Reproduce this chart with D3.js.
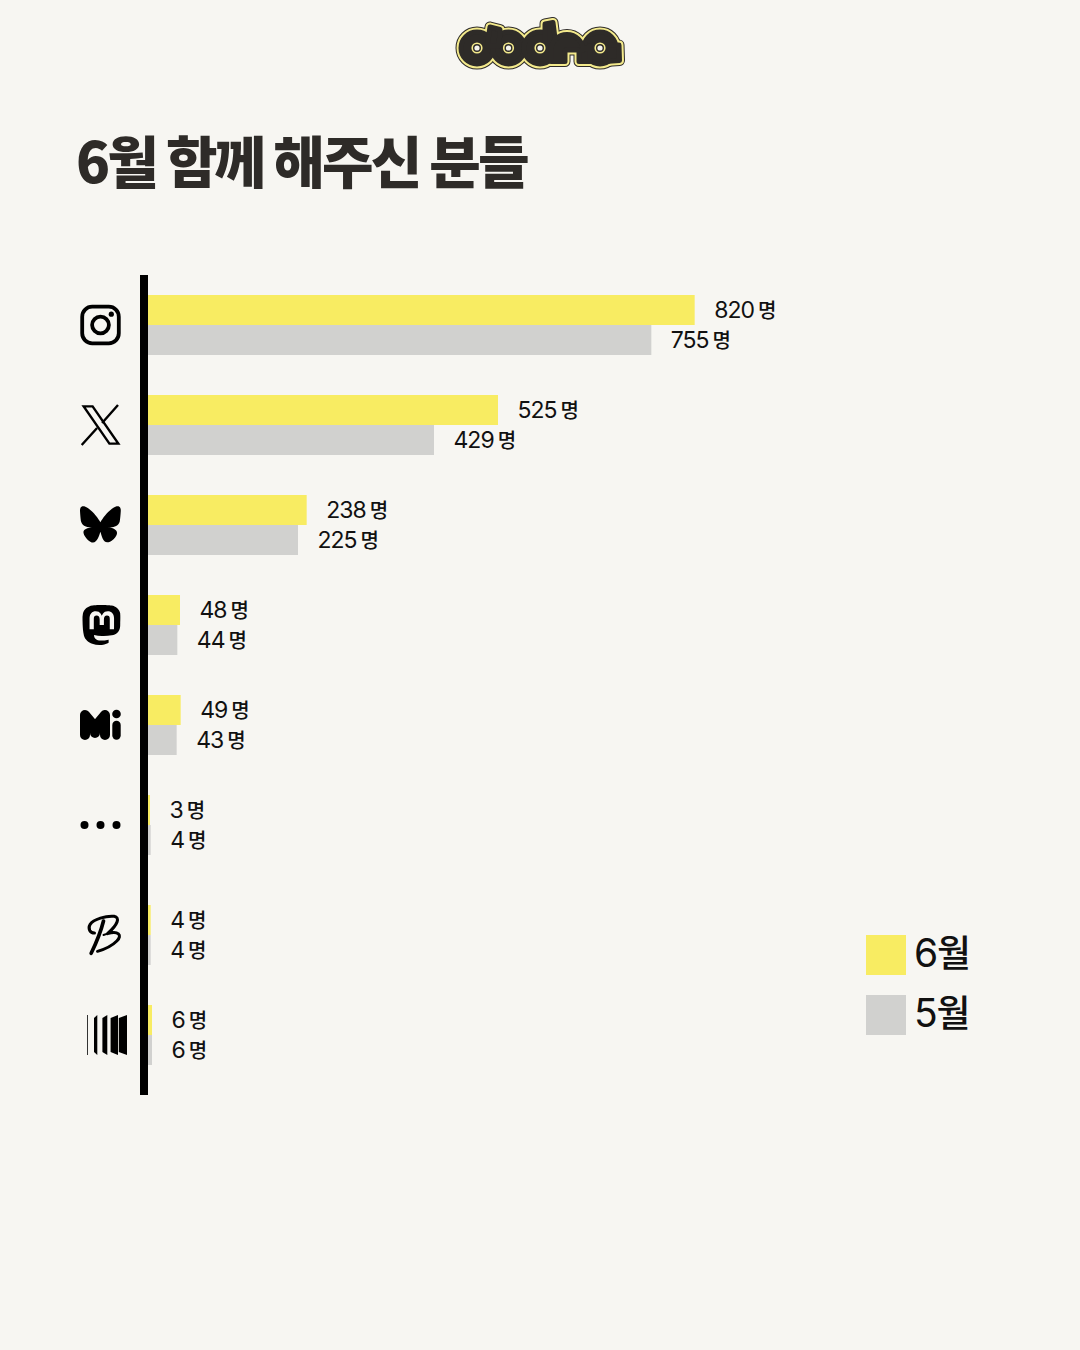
<!DOCTYPE html>
<html lang="ko">
<head>
<meta charset="utf-8">
<title>6월 함께 해주신 분들</title>
<script src="https://cdn.jsdelivr.net/npm/d3@7/dist/d3.min.js"></script>
<style>
  html, body { margin: 0; background: #f7f6f2; }
  svg { display: block; }
  text { font-family: Inter, "Noto Sans CJK KR", sans-serif; }
</style>
</head>
<body>
<svg id="chart" width="1080" height="1350"></svg>
<script>
const platforms = ["instagram", "x", "bluesky", "mastodon", "misskey", "other", "bearblog", "cara"];
const june = [820, 525, 238, 48, 49, 3, 4, 6];
const may = [755, 429, 225, 44, 43, 4, 4, 6];
const seriesNames = ["6월", "5월"];
const seriesColors = ["#f8ec62", "#d1d1cf"];
const unit = "명";
const titleText = "6월 함께 해주신 분들";

const svg = d3.select("#chart");
const INK = "#2e2b28";
const CJK = '"Noto Sans CJK KR", sans-serif';
svg.append("rect").attr("width", 1080).attr("height", 1350).attr("fill", "#f7f6f2");

/* logo: one silhouette stroked three times gives the outlined lettering */
const logo = svg.append("g").attr("class", "logo");
const logoCircles = [[477, 48], [508.5, 48], [540, 48], [600, 48]];
const logoPolys = [
  "490,27 500,29.5 499,46 487,46",
  "545,24 553,22.5 556,46 545,46",
  "605,45 619,45 619.5,60.5 605,61.5"
];
const logoPaths = [
  "M551,61.5 V50 A15,14.5 0 0 1 583,50 L590,46 V61.5 H579 V52 Q579,50 577,50 H567 Q565,50 565,52 V61.5 Z"
];
[
  { stroke: INK, width: 11 },
  { stroke: "#f4ea8c", width: 9 },
  { stroke: INK, width: 5 }
].forEach(layer => {
  const g = logo.append("g")
    .attr("fill", layer.stroke).attr("stroke", layer.stroke)
    .attr("stroke-width", layer.width).attr("stroke-linejoin", "round");
  g.selectAll("circle").data(logoCircles).join("circle")
    .attr("cx", d => d[0]).attr("cy", d => d[1]).attr("r", 16);
  g.selectAll("polygon").data(logoPolys).join("polygon").attr("points", d => d);
  g.selectAll("path").data(logoPaths).join("path").attr("d", d => d);
});
logo.selectAll("circle.ring").data(logoCircles).join("circle")
  .attr("class", "ring")
  .attr("cx", d => d[0]).attr("cy", d => d[1]).attr("r", 4.8)
  .attr("fill", INK).attr("stroke", "#f4ea8c").attr("stroke-width", 1.6);
logo.selectAll("circle.eye").data(logoCircles).join("circle")
  .attr("class", "eye")
  .attr("cx", d => d[0]).attr("cy", d => d[1]).attr("r", 2.6)
  .attr("fill", "#f4f3ee");

svg.append("text")
  .attr("x", 76).attr("y", 183)
  .attr("font-size", 56).attr("font-weight", 900)
  .attr("letter-spacing", -2.8)
  .attr("word-spacing", -3)
  .style("font-family", CJK)
  .attr("fill", INK)
  .text(titleText);

/* scales */
const x = d3.scaleLinear().domain([0, 820]).range([148, 148 + 820 * 2 / 3]);
const rows = d3.scaleBand().domain(platforms).range([275, 1075]);
// the last two platforms sit a little further down than the rest
const lateRowShift = 10;
const rowTop = name => rows(name) + (platforms.indexOf(name) >= 6 ? lateRowShift : 0);
const barHeight = 30;
const barInset = 20;

const baseline = svg.append("g")
  .attr("transform", "translate(144,0)")
  .call(d3.axisLeft(d3.scaleLinear().range([275, 1095])).tickValues([]).tickSize(0).offset(0));
baseline.select(".domain").attr("stroke", "#000").attr("stroke-width", 8);

/* bars and value labels */
[june, may].forEach((values, s) => {
  const g = svg.append("g").attr("class", "series");
  const row = d => rowTop(platforms[d.i]) + barInset + s * barHeight;
  const items = values.map((v, i) => ({ v, i }));
  g.selectAll("rect").data(items).join("rect")
    .attr("x", x(0))
    .attr("y", row)
    .attr("width", d => x(d.v) - x(0))
    .attr("height", barHeight)
    .attr("fill", seriesColors[s]);
  const labels = g.selectAll("text").data(items).join("text")
    .attr("x", d => x(d.v) + 19.5)
    .attr("y", d => row(d) + barHeight / 2 + 8)
    .attr("font-size", 23)
    .attr("letter-spacing", -1)
    .attr("fill", "#111");
  labels.append("tspan").text(d => d.v);
  labels.append("tspan")
    .attr("dx", 4)
    .attr("font-size", 20).attr("font-weight", 500)
    .style("font-family", CJK)
    .text(unit);
});

/* platform marks, each drawn around its row centre */
const SI_BLUESKY = "M12 10.8c-1.087-2.114-4.046-6.053-6.798-7.995C2.566.944 1.561 1.266.902 1.565.139 1.908 0 3.08 0 3.768c0 .69.378 5.65.624 6.479.815 2.736 3.713 3.66 6.383 3.364.136-.02.275-.039.415-.056-.138.022-.276.04-.415.056-3.912.58-7.387 2.005-2.83 7.078 5.013 5.19 6.87-1.113 7.823-4.308.953 3.195 2.05 9.271 7.733 4.308 4.267-4.308 1.172-6.498-2.74-7.078a8.741 8.741 0 0 1-.415-.056c.14.017.279.036.415.056 2.67.297 5.568-.628 6.383-3.364.246-.828.624-5.79.624-6.479 0-.688-.139-1.86-.902-2.203-.659-.299-1.664-.621-4.3 1.24C16.046 4.748 13.087 8.687 12 10.8Z";
const SI_MASTODON = "M23.268 5.313c-.35-2.578-2.617-4.61-5.304-5.004C17.51.242 15.792 0 11.813 0h-.03C7.803 0 6.95.242 6.497.309 3.873.692 1.445 2.483.856 5.127.587 6.412.557 7.837.607 9.143c.072 1.874.086 3.745.257 5.611.118 1.24.324 2.47.616 3.68.55 2.237 2.777 4.098 4.96 4.857 2.336.792 4.849.923 7.256.38.265-.061.527-.132.786-.213.585-.184 1.27-.39 1.774-.753a.057.057 0 0 0 .023-.043v-1.809a.052.052 0 0 0-.02-.041.053.053 0 0 0-.046-.01 20.282 20.282 0 0 1-4.709.545c-2.73 0-3.463-1.284-3.674-1.818a5.593 5.593 0 0 1-.319-1.433.053.053 0 0 1 .066-.054c1.517.363 3.072.546 4.632.546.376 0 .75 0 1.125-.01 1.57-.044 3.224-.124 4.768-.422.038-.008.077-.015.11-.024 2.435-.464 4.753-1.92 4.989-5.604.008-.145.03-1.52.03-1.67.002-.512.167-3.63-.024-5.545zm-3.748 9.195h-2.561V8.29c0-1.309-.55-1.976-1.67-1.976-1.23 0-1.846.79-1.846 2.35v3.403h-2.546V8.663c0-1.56-.617-2.35-1.848-2.35-1.112 0-1.668.668-1.67 1.977v6.218H4.822V8.102c0-1.31.337-2.35 1.011-3.12.696-.77 1.608-1.164 2.74-1.164 1.311 0 2.302.5 2.962 1.498l.638 1.06.638-1.06c.66-.999 1.65-1.498 2.96-1.498 1.13 0 2.043.395 2.74 1.164.675.77 1.012 1.81 1.012 3.12z";

const iconDrawers = {
  instagram(g) {
    g.append("rect").attr("x", -18.3).attr("y", -18.3).attr("width", 36.6).attr("height", 36.6).attr("rx", 10)
      .attr("fill", "none").attr("stroke", "#000").attr("stroke-width", 3.8);
    g.append("circle").attr("r", 8.4).attr("fill", "none").attr("stroke", "#000").attr("stroke-width", 3.8);
    g.append("circle").attr("cx", 10.8).attr("cy", -10.8).attr("r", 2.6).attr("fill", "#000");
  },
  x(g) {
    g.append("polygon")
      .attr("points", "-16.8,-18.6 -7.9,-18.6 17.8,18.6 8.9,18.6")
      .attr("fill", "none").attr("stroke", "#000").attr("stroke-width", 2.4);
    g.append("path")
      .attr("d", "M17.5,-20 L1.6,-2 M-18.8,20 L-3.4,3")
      .attr("fill", "none").attr("stroke", "#000").attr("stroke-width", 2.4);
  },
  bluesky(g) {
    g.append("path").attr("d", SI_BLUESKY).attr("transform", "translate(-20.5,-21) scale(1.7)").attr("fill", "#000");
  },
  mastodon(g) {
    g.append("path").attr("d", SI_MASTODON).attr("transform", "translate(-19,-20) scale(1.667)").attr("fill", "#000");
  },
  misskey(g) {
    g.append("path")
      .attr("d", "M-15.5,10 V-10 L-5.5,2 V8 M-5.5,2 L4.5,-10 V10")
      .attr("fill", "none").attr("stroke", "#000").attr("stroke-width", 10)
      .attr("stroke-linecap", "round").attr("stroke-linejoin", "round");
    g.append("circle").attr("cx", 16).attr("cy", -11).attr("r", 4.3).attr("fill", "#000");
    g.append("path").attr("d", "M16,0 V10.5").attr("stroke", "#000").attr("stroke-width", 8.4).attr("stroke-linecap", "round");
  },
  other(g) {
    g.selectAll("circle").data([-16, 0, 16]).join("circle")
      .attr("cx", d => d).attr("r", 4).attr("fill", "#000");
  },
  bearblog(g) {
    const t = g.append("g").attr("transform", "translate(-25,-30) scale(0.3333)")
      .attr("fill", "none").attr("stroke", "#000").attr("stroke-linecap", "round").attr("stroke-linejoin", "round");
    t.append("path").attr("stroke-width", 9)
      .attr("d", "M57,84 C44,84 36,72 44,58 C54,42 92,32 116,34 C134,37 128,58 96,86 C128,76 142,90 124,108 C108,124 84,134 66,139");
    t.append("path").attr("stroke-width", 11).attr("d", "M84,48 C76,80 60,118 47,145");
    t.append("path").attr("stroke-width", 6).attr("d", "M96,86 L84,90");
  },
  cara(g) {
    g.append("rect").attr("x", -20).attr("y", -20).attr("width", 1).attr("height", 40).attr("fill", "#333");
    g.selectAll("polygon").data([
      "-13,-17 -9.7,-20 -9.7,20 -13,17",
      "-4.6,-17 0.3,-20 0.3,20 -4.6,17",
      "3.6,-17 11,-20 11,20 3.6,17",
      "11.8,-17 20,-20 20,20 11.8,17"
    ]).join("polygon").attr("points", d => d).attr("fill", "#000");
  }
};
const iconCentreX = { cara: 107 };
const icons = svg.append("g").attr("class", "icons");
platforms.forEach(name => {
  const g = icons.append("g")
    .attr("transform", `translate(${iconCentreX[name] ?? 100.5},${rowTop(name) + rows.bandwidth() / 2})`);
  iconDrawers[name](g);
});

/* legend */
const legendY = d3.scaleBand().domain(seriesNames).range([925, 1045]);
const legend = svg.append("g").selectAll("g").data(seriesNames).join("g")
  .attr("transform", d => `translate(866,${legendY(d) + 10})`);
legend.append("rect").attr("width", 40).attr("height", 40)
  .attr("fill", (d, i) => seriesColors[i]);
const legendText = legend.append("text")
  .attr("x", 48).attr("y", 32)
  .attr("font-size", 39).attr("letter-spacing", -1.2)
  .attr("fill", "#111");
legendText.append("tspan").text(d => d.slice(0, 1));
legendText.append("tspan").attr("font-size", 37).attr("font-weight", 500).style("font-family", CJK)
  .text(d => d.slice(1));
</script>
</body>
</html>
